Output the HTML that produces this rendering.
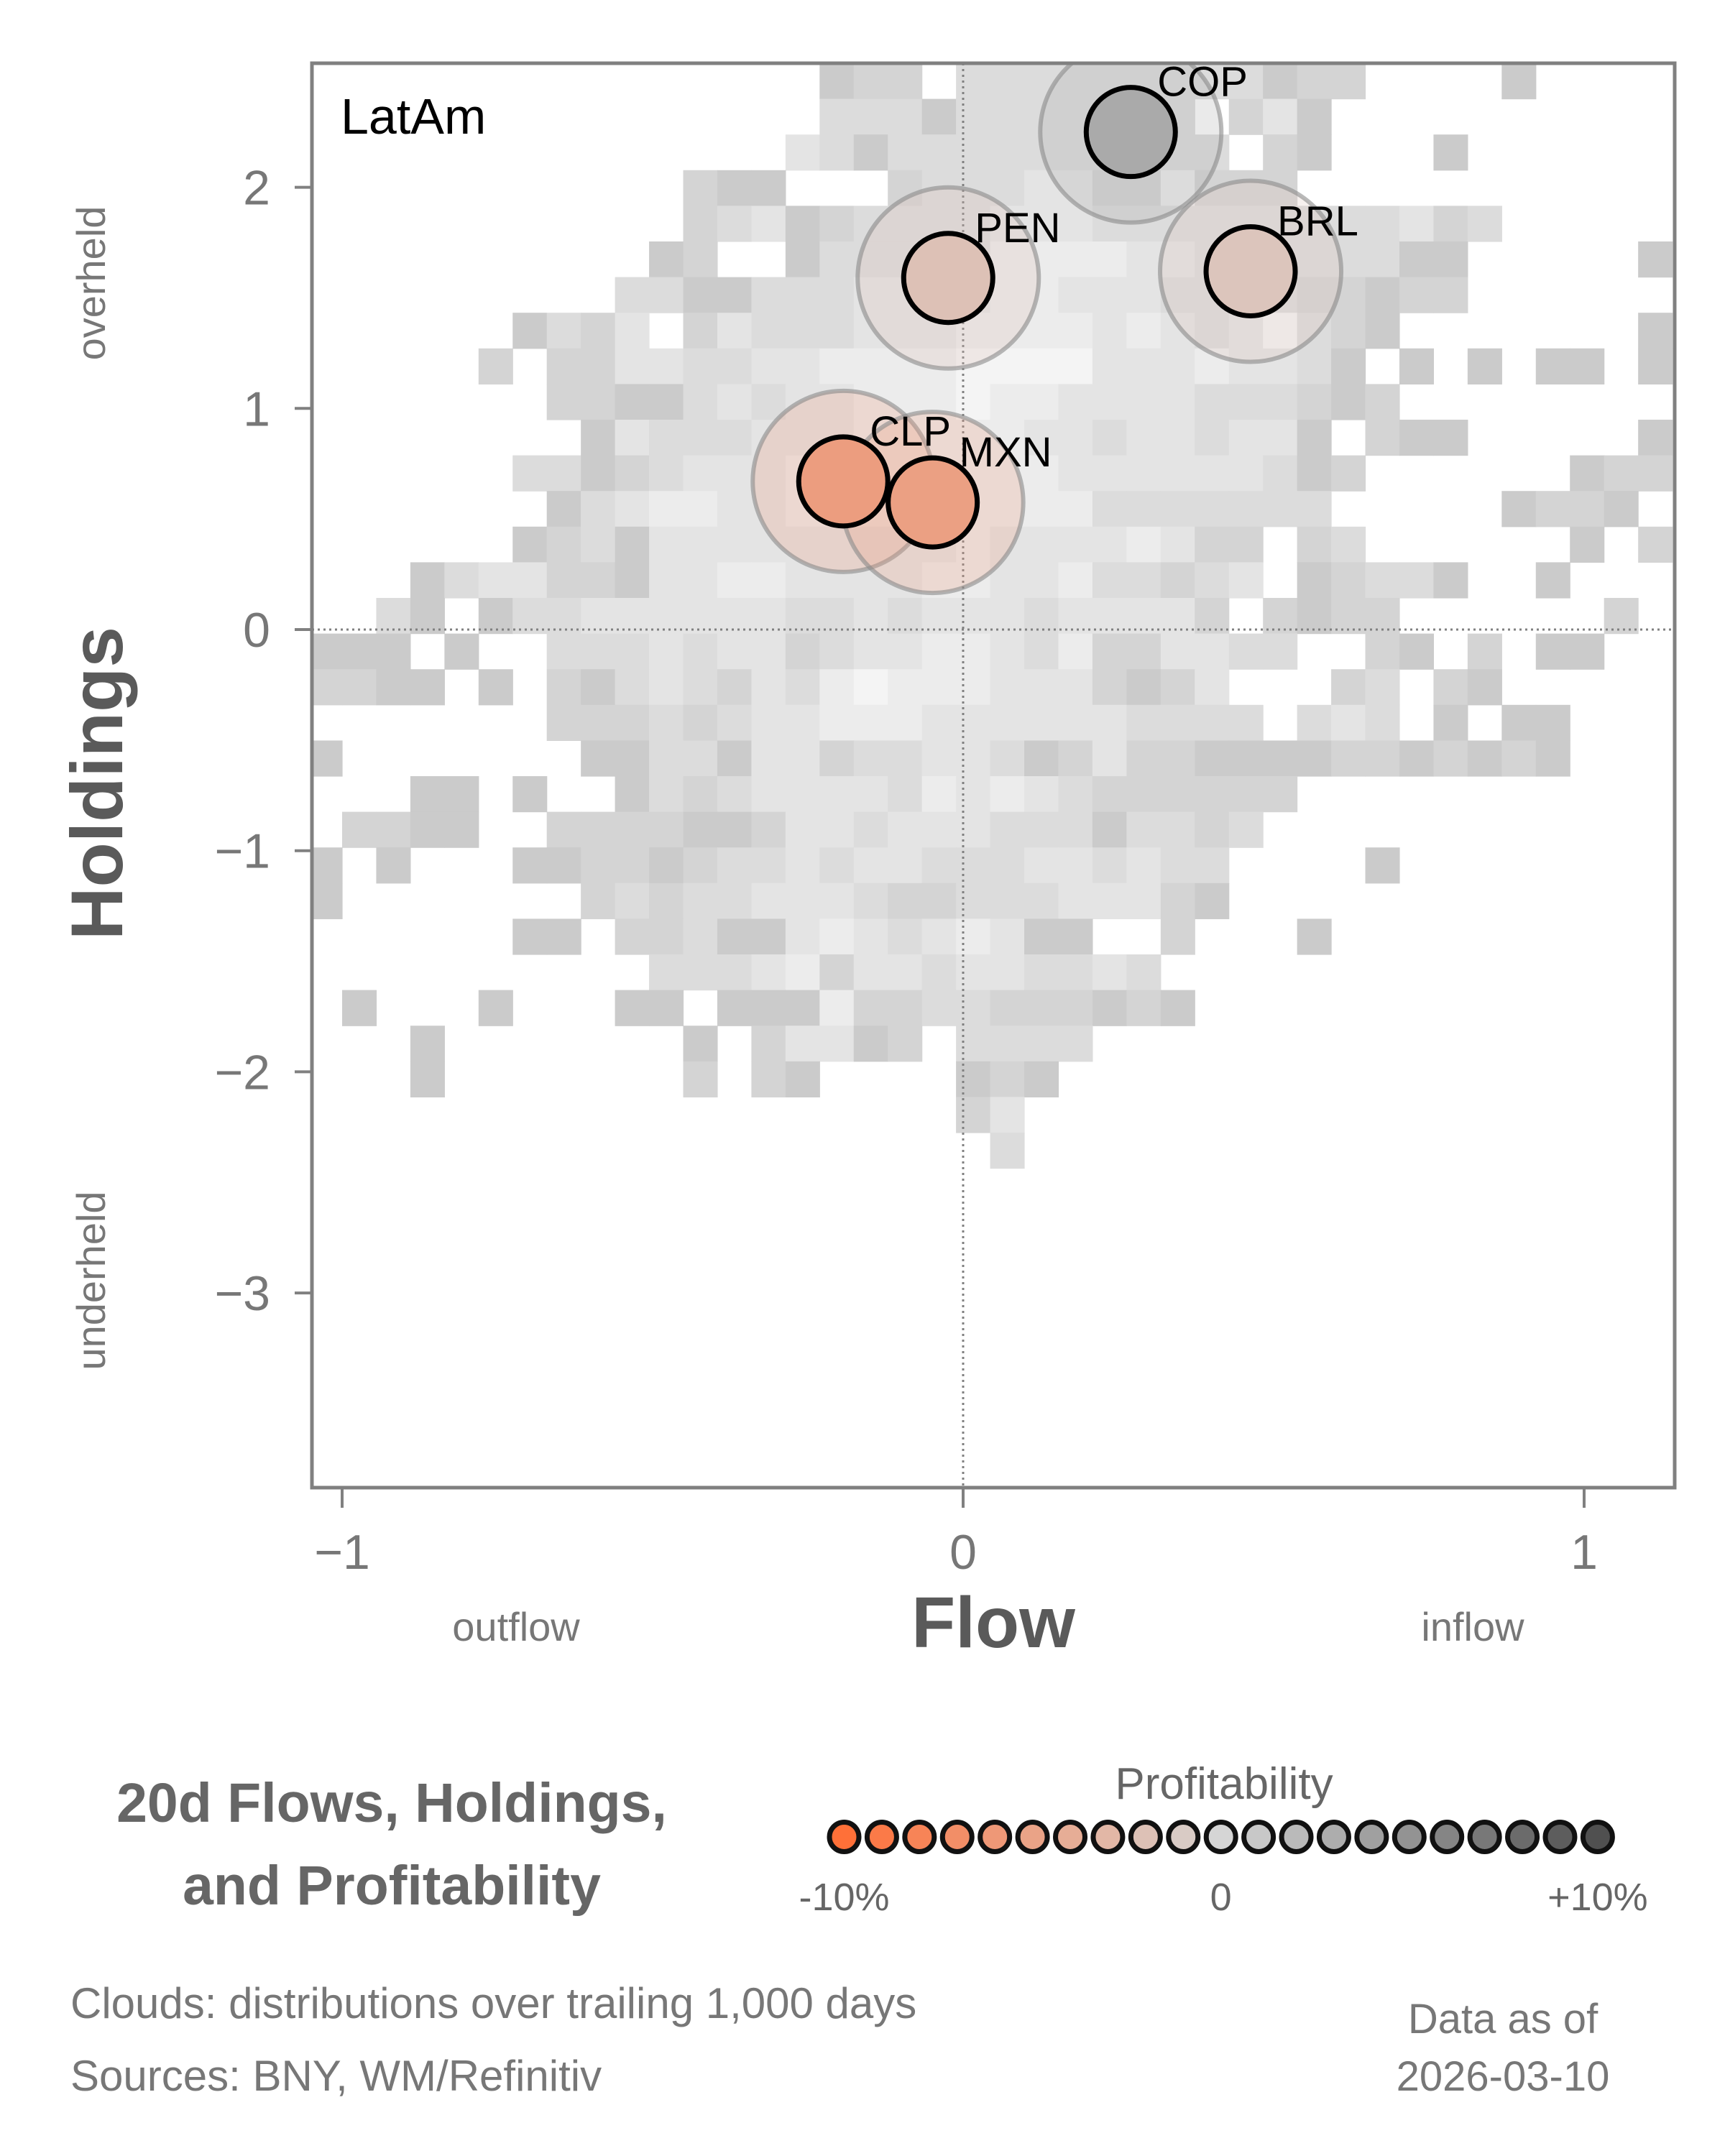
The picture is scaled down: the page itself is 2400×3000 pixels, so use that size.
<!DOCTYPE html>
<html><head><meta charset="utf-8">
<style>
html,body{margin:0;padding:0;background:#fff;}
svg{display:block;font-family:"Liberation Sans",sans-serif;}
</style></head>
<body>
<svg id="chart" width="2400" height="3000" viewBox="0 0 2400 3000" xmlns="http://www.w3.org/2000/svg">
<defs><clipPath id="plotclip"><rect x="434" y="88" width="1896" height="1982"/></clipPath></defs>
<g id="heat" clip-path="url(#plotclip)"></g>
<g id="ref"></g>
<g id="bubbles" clip-path="url(#plotclip)"></g>
<rect x="434" y="88" width="1896" height="1982" fill="none" stroke="#808080" stroke-width="5"/>
<g id="axes"></g>
<text x="474" y="186" font-size="70" fill="#000">LatAm</text>
<text transform="translate(170,1090) rotate(-90)" text-anchor="middle" font-size="102" font-weight="bold" fill="#5a5a5a">Holdings</text>
<text transform="translate(146,394) rotate(-90)" text-anchor="middle" font-size="56" fill="#777">overheld</text>
<text transform="translate(146,1782) rotate(-90)" text-anchor="middle" font-size="56" fill="#777">underheld</text>
<text x="1382" y="2292" text-anchor="middle" font-size="100" font-weight="bold" fill="#5a5a5a">Flow</text>
<text x="718" y="2283" text-anchor="middle" font-size="56" fill="#777">outflow</text>
<text x="2049" y="2283" text-anchor="middle" font-size="56" fill="#777">inflow</text>
<text x="545" y="2535" text-anchor="middle" font-size="77" font-weight="bold" fill="#666">20d Flows, Holdings,</text>
<text x="545" y="2650" text-anchor="middle" font-size="77" font-weight="bold" fill="#666">and Profitability</text>
<text x="1703" y="2503" text-anchor="middle" font-size="62" fill="#666">Profitability</text>
<g id="legend"></g>
<text x="98" y="2808" font-size="60" fill="#777">Clouds:  distributions over trailing 1,000 days</text>
<text x="98" y="2909" font-size="60" fill="#777">Sources:  BNY, WM/Refinitiv</text>
<text x="2091" y="2829" text-anchor="middle" font-size="58" fill="#777">Data as of</text>
<text x="2091" y="2909" text-anchor="middle" font-size="58" fill="#777">2026-03-10</text>
</svg>
<script>
// ---- data ----
const heatRows = [
"0000000000000001220333333333122000010000",
"0000000000000003331333333302410000000000",
"0000000000000043133333333330210001000000",
"0000000000021100023334422522200000000000",
"0000000000023412333344433333333342300000",
"0000000000120013333355554433333311000001",
"0000000003311333444455444333322122000000",
"0000001324024333444555545434632100000001",
"0000020224433445555666644454431010101101",
"0000000221134344555655444433321200000000",
"0000000014333444555554434434410211000001",
"0000003312344455555555444444312000000122",
"0000000134554455555555533333330000012210",
"0000001231444444444544445422023000000102",
"0001344221445544445544533234012331001000",
"0031013344444433434443444420212200000020",
"1110100333434423445543522443300210201100",
"2211010213432435655544421240002302100000",
"0000000222323445554444443333034301011000",
"1000000011331442334431242211112212121000",
"0001101001323444435454322222200000000000",
"0221100222211244344433313323000000000000",
"1010001122123343443334434330000100000000",
"1000000023233444322333444210000000000000",
"0000001102231145434541100200010000000000",
"0000000000333452443443343000000000000000",
"0100010001101115223322212100000000000000",
"0001000000010244120333300000000000000000",
"0001000000020210000121000000000000000000",
"0000000000000000000240000000000000000000",
"0000000000000000000030000000000000000000"
];
const heatColors = ["none","#cbcbcb","#d4d4d4","#dcdcdc","#e4e4e4","#ececec","#f4f4f4"];
const currencies = ["COP","PEN","BRL","CLP","MXN"];
const flows      = [0.27, -0.024, 0.463, -0.193, -0.049];
const holdings   = [2.25, 1.59, 1.62, 0.67, 0.575];
const profits    = [3.2, -2.0, -1.6, -5.5, -5.2];
const xTicks = [-1, 0, 1];
const xTickLabels = ["\u22121","0","1"];
const yTicks = [2, 1, 0, -1, -2, -3];
const yTickLabels = ["2","1","0","\u22121","\u22122","\u22123"];
const legendValues = [-10,-9,-8,-7,-6,-5,-4,-3,-2,-1,0,1,2,3,4,5,6,7,8,9,10];
const legendLabels = ["-10%","0","+10%"];
const legendLabelValues = [-10, 0, 10];

// ---- scales ----
const X = v => 1340 + v*864;
const Y = v => 876 - v*307.7;
const binW = 0.05492, binH = 0.1612, binX0 = -1 - binW, binYTop = 2.561;
const L = v => 1174.5 + (v+10)*52.42;
function profColor(p){
  const t = Math.max(-1, Math.min(1, p/10));
  let a, b, s;
  if (t < 0){ a=[213,213,213]; b=[255,112,56]; s=-t; }
  else { a=[213,213,213]; b=[80,80,80]; s=t; }
  const c = a.map((v,i)=>Math.round(v+(b[i]-v)*s));
  return `rgb(${c[0]},${c[1]},${c[2]})`;
}
const NS = "http://www.w3.org/2000/svg";
function mk(tag, attrs, parent){
  const e = document.createElementNS(NS, tag);
  for (const k in attrs) e.setAttribute(k, attrs[k]);
  parent.appendChild(e); return e;
}

// heatmap
const heat = document.getElementById("heat");
heatRows.forEach((row, r) => {
  for (let c = 0; c < row.length; c++){
    const lv = +row[c]; if (!lv) continue;
    const x0 = X(binX0 + c*binW), x1 = X(binX0 + (c+1)*binW);
    const y0 = Y(binYTop - r*binH), y1 = Y(binYTop - (r+1)*binH);
    const cell = mk("rect", {x:x0, y:y0, width:x1-x0+0.6, height:y1-y0+0.6, fill:heatColors[lv]}, heat);
    
    
  }
});

// reference lines
const ref = document.getElementById("ref");
const hl = mk("line", {x1:434, x2:2330, y1:Y(0), y2:Y(0), stroke:"#808080", "stroke-width":3, "stroke-dasharray":"3 5"}, ref);


const vl = mk("line", {x1:X(0), x2:X(0), y1:88, y2:2070, stroke:"#808080", "stroke-width":3, "stroke-dasharray":"3 5"}, ref);



// bubbles
const bub = document.getElementById("bubbles");
currencies.forEach((cur, i) => {
  const cx = X(flows[i]), cy = Y(holdings[i]), col = profColor(profits[i]);
  const halo = mk("circle", {cx, cy, r:126, fill:col, "fill-opacity":0.25, stroke:"#8a8a8a", "stroke-opacity":0.6, "stroke-width":6}, bub);
  
  
});
currencies.forEach((cur, i) => {
  const cx = X(flows[i]), cy = Y(holdings[i]), col = profColor(profits[i]);
  const dot = mk("circle", {cx, cy, r:62, fill:col, stroke:"#000", "stroke-width":7}, bub);
  
  
  const t = mk("text", {x:cx+37, y:cy-50, "font-size":58, fill:"#000"}, bub);
  t.textContent = cur;
  
  
});

// axes
const axes = document.getElementById("axes");
xTicks.forEach((v, i) => {
  const tk = mk("line", {x1:X(v), x2:X(v), y1:2070, y2:2098, stroke:"#808080", "stroke-width":4}, axes);
  
  
  const t = mk("text", {x:X(v), y:2183, "text-anchor":"middle", "font-size":68, fill:"#777"}, axes);
  t.textContent = xTickLabels[i];
  
  
});
yTicks.forEach((v, i) => {
  const tk = mk("line", {x1:410, x2:434, y1:Y(v), y2:Y(v), stroke:"#808080", "stroke-width":4}, axes);
  
  
  const t = mk("text", {x:376, y:Y(v)+24, "text-anchor":"end", "font-size":68, fill:"#777"}, axes);
  t.textContent = yTickLabels[i];
  
  
});

// legend
const leg = document.getElementById("legend");
legendValues.forEach(v => {
  const d = mk("circle", {cx:L(v), cy:2556, r:20.5, fill:profColor(v), stroke:"#111", "stroke-width":7}, leg);
  
  
});
legendLabelValues.forEach((v, i) => {
  const t = mk("text", {x:L(v), y:2658, "text-anchor":"middle", "font-size":54, fill:"#666"}, leg);
  t.textContent = legendLabels[i];
  
  
});
</script>
</body></html>
